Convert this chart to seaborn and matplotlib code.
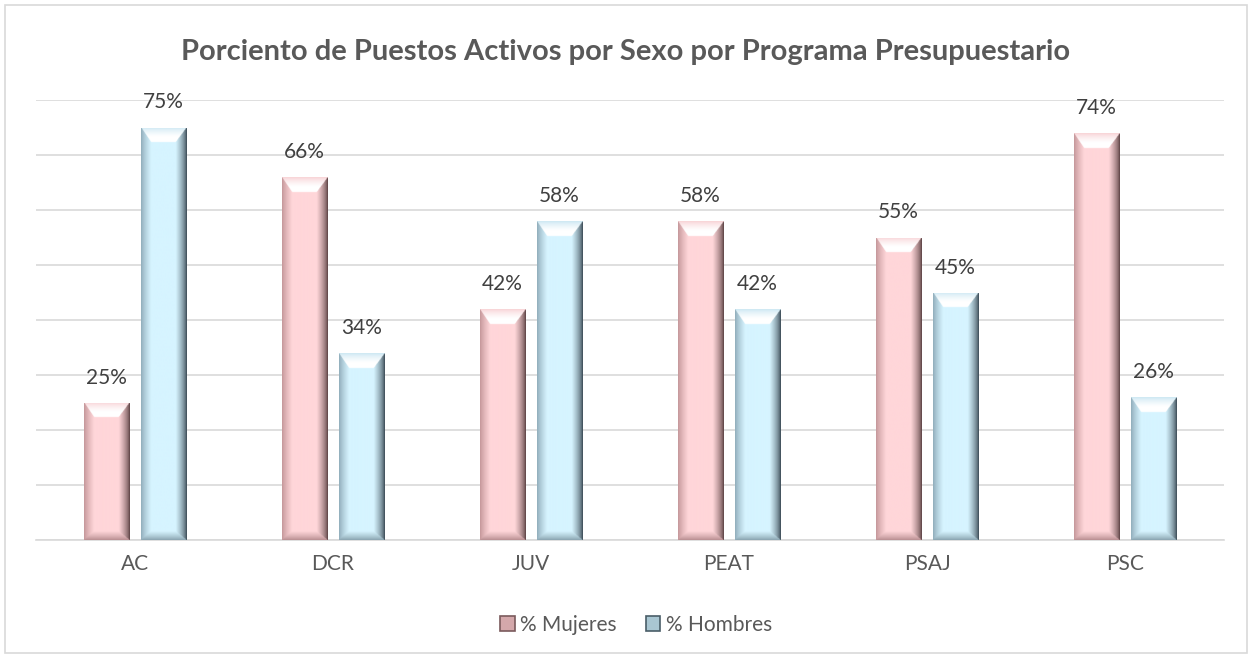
import numpy as np
import pandas as pd
import matplotlib
matplotlib.use("Agg")
import matplotlib.pyplot as plt
import seaborn as sns
from matplotlib.patches import Patch, Rectangle

categories = ["AC", "DCR", "JUV", "PEAT", "PSAJ", "PSC"]
mujeres = [25, 66, 42, 58, 55, 74]
hombres = [75, 34, 58, 42, 45, 26]
series_names = ["% Mujeres", "% Hombres"]
title = "Porciento de Puestos Activos por Sexo por Programa Presupuestario"

df = pd.DataFrame({
    "cat": categories * 2,
    "val": mujeres + hombres,
    "serie": [series_names[0]] * len(categories) + [series_names[1]] * len(categories),
})

sns.set_theme(style="white")
plt.rcParams["font.family"] = ["Lato", "DejaVu Sans"]

W, H = 1252, 658
fig = plt.figure(figsize=(W / 100, H / 100), dpi=100)
ax = fig.add_axes([36 / W, (H - 540) / H, (1224 - 36) / W, 440 / H])

pal = {series_names[0]: "#ffd6d9", series_names[1]: "#d6f4ff"}
sns.barplot(data=df, x="cat", y="val", hue="serie", palette=pal, ax=ax,
            width=0.576, gap=0.21, legend=False, saturation=1, linewidth=0)

ax.set_ylim(0, 80)
ax.set_xlim(-0.5, len(categories) - 0.5)
ax.set_yticks(np.arange(0, 81, 10))
ax.set_yticklabels([])
ax.tick_params(axis="y", length=0)
ax.tick_params(axis="x", length=0, labelsize=15, labelcolor="#595959", pad=10)
ax.set_xlabel("")
ax.set_ylabel("")
ax.grid(axis="y", color="#d9d9d9", linewidth=1.2)
ax.set_axisbelow(True)
for s in ["left", "right", "top"]:
    ax.spines[s].set_visible(False)
ax.spines["bottom"].set_color("#d9d9d9")
ax.spines["bottom"].set_linewidth(1.2)

fig.canvas.draw()

def rgb(h):
    return np.array(matplotlib.colors.to_rgb(h))

styles = {
    "#ffd6d9": dict(base=rgb("#ffd6d9"), left=rgb("#c29497"), right=rgb("#4a3233"),
                    top0=rgb("#f7d0d3"), top1=rgb("#ffffff"), bottom=rgb("#b58b8e")),
    "#d6f4ff": dict(base=rgb("#d6f4ff"), left=rgb("#8eaab8"), right=rgb("#2a3843"),
                    top0=rgb("#c9e6f2"), top1=rgb("#ffffff"), bottom=rgb("#86a0ac")),
}

bars = [p for p in ax.patches if p.get_height() > 0]
for p in bars:
    fc = matplotlib.colors.to_hex(p.get_facecolor()[:3])
    st = styles.get(fc)
    if st is None:
        continue
    x0, y0 = p.get_x(), p.get_y()
    w, h = p.get_width(), p.get_height()
    a = ax.transData.transform((x0, y0))
    b_ = ax.transData.transform((x0 + w, y0 + h))
    Wp = max(int(round(b_[0] - a[0])) * 2, 2)
    Hp = max(int(round(b_[1] - a[1])) * 2, 2)
    xs = (np.arange(Wp) + 0.5) / 2
    ys = (np.arange(Hp) + 0.5) / 2
    X, Y = np.meshgrid(xs, ys)
    Wr, Hr = Wp / 2, Hp / 2
    bl, br, bt, bb = 10.0, 11.0, 15.0, 9.0
    dl = X / bl
    dr = (Wr - X) / br
    dt = Y / bt
    db = (Hr - Y) / bb
    stack = np.stack([dl, dr, dt, db])
    idx = np.argmin(stack, axis=0)
    m = np.min(stack, axis=0)
    img = np.tile(st["base"], (Hp, Wp, 1)).astype(float)
    base = st["base"]
    # left
    mask = (idx == 0) & (m < 1)
    t = m[mask][:, None] ** 0.8
    img[mask] = st["left"] * (1 - t) + base * t
    # right
    mask = (idx == 1) & (m < 1)
    t = m[mask][:, None] ** 0.6
    img[mask] = st["right"] * (1 - t) + base * t
    # top
    mask = (idx == 2) & (m < 1)
    t = np.clip(m[mask][:, None] * 1.6, 0, 1) ** 0.7
    img[mask] = st["top0"] * (1 - t) + st["top1"] * t
    # bottom
    mask = (idx == 3) & (m < 1)
    t = m[mask][:, None] ** 0.8
    img[mask] = st["bottom"] * (1 - t) + base * t
    im = ax.imshow(np.clip(img, 0, 1), extent=(x0, x0 + w, y0, y0 + h), origin="upper",
                   aspect="auto", interpolation="bilinear", zorder=3)
    im.set_clip_path(p)
    ax.annotate(f"{h:.0f}%", xy=(x0 + w / 2, y0 + h), xytext=(0, 18), textcoords="offset points",
                ha="center", va="center", fontsize=15, color="#404040", zorder=5)

ax.set_xlim(-0.5, len(categories) - 0.5)
ax.set_ylim(0, 80)

fig.text(0.5, (H - 52) / H, title, ha="center", va="center", fontsize=21,
         fontweight="bold", color="#595959")

handles = [Patch(facecolor="#d4a8ab", edgecolor="#7a5a5c", linewidth=1.2, label=series_names[0]),
           Patch(facecolor="#a9c6d2", edgecolor="#4a5e68", linewidth=1.2, label=series_names[1])]
fig.legend(handles=handles, loc="center", bbox_to_anchor=(636 / W, (H - 625) / H), ncol=2,
           frameon=False, fontsize=15, labelcolor="#595959", handlelength=0.7, handleheight=0.7,
           handletextpad=0.25, columnspacing=1.4)

fig.patches.append(Rectangle((5 / W, 5 / H), (W - 10) / W, (H - 10) / H, transform=fig.transFigure,
                             fill=False, edgecolor="#d9d9d9", linewidth=1.2))

fig.savefig("out.png", dpi=100, facecolor="white")
